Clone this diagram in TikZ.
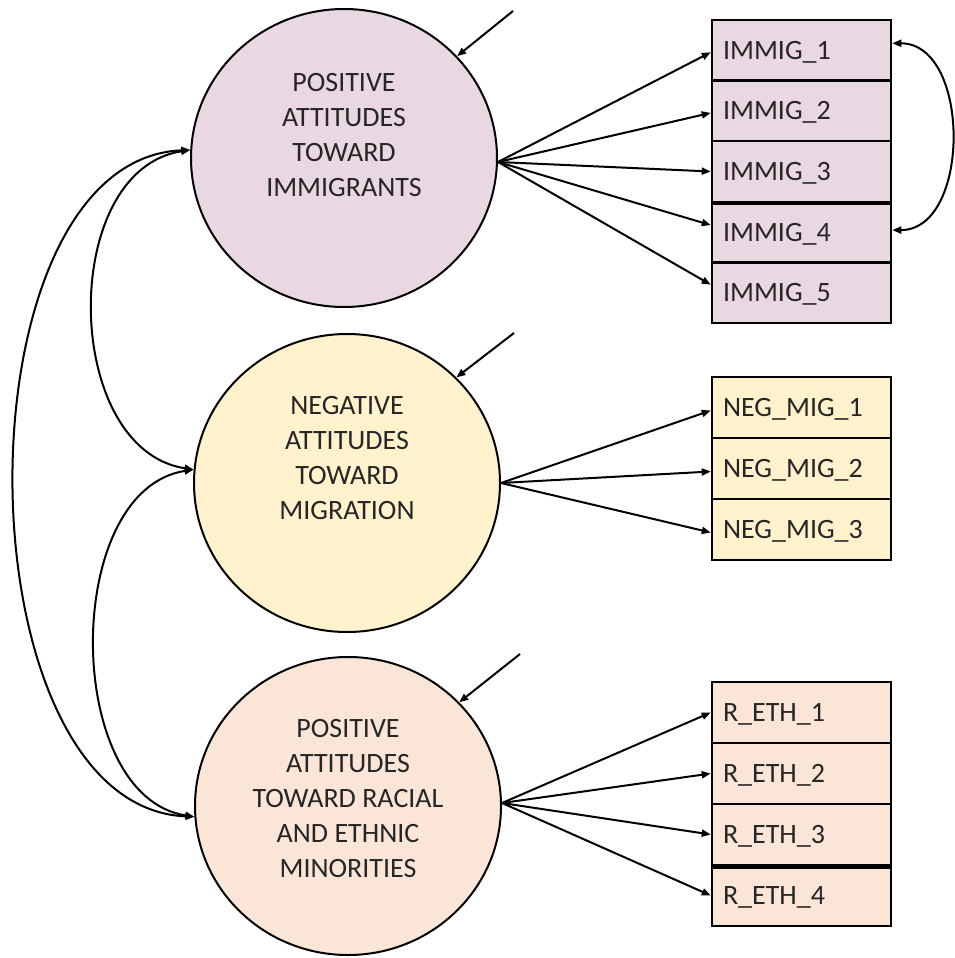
\documentclass[tikz,border=0pt]{standalone}
\usepackage{fontspec}
\setmainfont{Carlito}
\usetikzlibrary{arrows.meta,calc,shapes.geometric}
\definecolor{immigfill}{RGB}{233,215,226}
\definecolor{negfill}{RGB}{255,242,204}
\definecolor{ethfill}{RGB}{251,229,214}
\definecolor{inktext}{RGB}{38,38,38}
\tikzset{
  latent/.style={ellipse, draw, line width=2pt, minimum width=306pt,
    minimum height=298pt, inner sep=0pt},
  lattext/.style={anchor=north, align=center, inner sep=0pt, text=inktext,
    font=\fontsize{28}{35}\selectfont},
  indicator/.style={rectangle, draw, line width=2.5pt, minimum width=179pt,
    minimum height=61pt, inner xsep=11pt, inner ysep=0pt, text width=157pt,
    text height=18pt, text depth=0pt, align=left, text=inktext,
    font=\fontsize{28}{34}\selectfont},
  tipshape/.tip={Triangle[length=9pt,width=7pt]},
  loading/.style={line width=2pt, -tipshape},
  covar/.style={line width=2pt, tipshape-tipshape},
}
\begin{document}
\begin{tikzpicture}[x=1pt,y=-1pt]
\useasboundingbox (0,0) rectangle (955,958);

% latent factors
\node[latent, fill=immigfill] (c1) at (344,158) {};
\node[lattext] (c1t) at (344,73) {POSITIVE\\ATTITUDES\\TOWARD\\IMMIGRANTS};
\node[latent, fill=negfill] (c2) at (347,483) {};
\node[lattext] (c2t) at (347,396) {NEGATIVE\\ATTITUDES\\TOWARD\\MIGRATION};
\node[latent, fill=ethfill] (c3) at (348,806) {};
\node[lattext] (c3t) at (348,719) {POSITIVE\\ATTITUDES\\TOWARD RACIAL\\AND ETHNIC\\MINORITIES};

% indicators
\node[indicator, fill=immigfill, minimum height=60.6pt] (i1) at (801.5,50.3) {IMMIG\_1};
\node[indicator, fill=immigfill, minimum height=60.6pt] (i2) at (801.5,110.9) {IMMIG\_2};
\node[indicator, fill=immigfill, minimum height=60.6pt] (i3) at (801.5,171.5) {IMMIG\_3};
\node[indicator, fill=immigfill, minimum height=60.6pt] (i4) at (801.5,232.1) {IMMIG\_4};
\node[indicator, fill=immigfill, minimum height=60.6pt] (i5) at (801.5,292.7) {IMMIG\_5};
\draw[line width=4pt] (i3.south west) -- (i3.south east);

\node[indicator, fill=negfill] (n1) at (801.5,407.5) {NEG\_MIG\_1};
\node[indicator, fill=negfill] (n2) at (801.5,468.5) {NEG\_MIG\_2};
\node[indicator, fill=negfill] (n3) at (801.5,529.5) {NEG\_MIG\_3};

\node[indicator, fill=ethfill] (r1) at (801.5,712.5) {R\_ETH\_1};
\node[indicator, fill=ethfill] (r2) at (801.5,773.5) {R\_ETH\_2};
\node[indicator, fill=ethfill] (r3) at (801.5,834.5) {R\_ETH\_3};
\node[indicator, fill=ethfill] (r4) at (801.5,895.5) {R\_ETH\_4};
\draw[line width=5.5pt] (r3.south west) -- (r3.south east);

% factor loadings
\coordinate (s1) at ($(c1.east)+(0,4)$);
\draw[loading] (s1) -- ($(i1.west)+(0,2)$);
\draw[loading] (s1) -- ($(i2.west)+(0,2)$);
\draw[loading] (s1) -- (i3.west);
\draw[loading] (s1) -- ($(i4.west)+(0,-7)$);
\draw[loading] (s1) -- ($(i5.west)+(0,-8)$);

\draw[loading] (c2.east) -- ($(n1.west)+(0,3)$);
\draw[loading] (c2.east) -- ($(n2.west)+(0,3)$);
\draw[loading] (c2.east) -- ($(n3.west)+(0,3)$);

\coordinate (s3) at ($(c3.east)+(0,-3)$);
\draw[loading] (s3) -- (r1.west);
\draw[loading] (s3) -- (r2.west);
\draw[loading] (s3) -- (r3.west);
\draw[loading] (s3) -- (r4.west);

% disturbances
\coordinate (e1) at (513,11);
\coordinate (e2) at (514,333);
\coordinate (e3) at (520,654);
\draw[loading] (e1) -- (c1.42);
\draw[loading] (e2) -- (c2.44);
\draw[loading] (e3) -- (c3.43);

% factor covariances
\draw[covar] (c1.177) .. controls +(-132,20) and +(-132,-20) .. (c2.175);
\draw[covar] (c2.175) .. controls +(-132,20) and +(-132,-20) .. (c3.184);
\draw[covar] (c1.177) .. controls +(-237,10) and +(-237,-10) .. (c3.184);

% correlated residuals
\draw[covar] ($(i1.east)+(0,-7)$) .. controls +(79,0) and +(79,0) .. ($(i4.east)+(0,-2)$);
\end{tikzpicture}
\end{document}
